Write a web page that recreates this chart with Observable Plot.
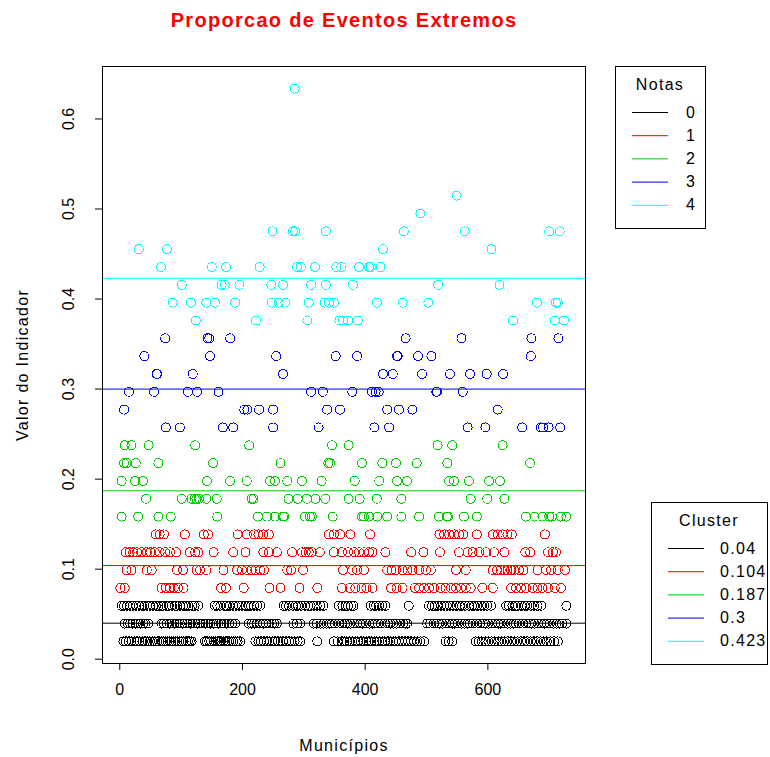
<!DOCTYPE html>
<html>
<head>
<meta charset="utf-8">
<script src="https://cdn.jsdelivr.net/npm/d3@7"></script>
<script src="https://cdn.jsdelivr.net/npm/@observablehq/plot@0.6"></script>
<style>
  body { margin: 0; background: #fff; }
  #chart svg { display: block; }
  .rotulo text { letter-spacing: 1.3px; }
  .titulo text { letter-spacing: 1.3px; }
</style>
</head>
<body>
<div id="chart"></div>
<script>
// Number of municipalities (x runs from 1 to nMunicipios)
const nMunicipios = 730;

// Cluster centres (k-means on the indicator) and the grade of each cluster
const centros = [0.04, 0.104, 0.187, 0.3, 0.423];
const notas = [0, 1, 2, 3, 4];
const cores = ["#000000", "#FF0000", "#00CD00", "#0000FF", "#00FFFF"];

// Municipalities per indicator value (value = share of extreme events)
const v0198 = [6, 10, 15, 19, 24, 28, 32, 37, 41, 45, 49, 53, 57, 61, 64, 68, 71, 75, 78, 81, 84, 88, 91, 94, 97, 101, 104, 108, 111, 114, 117, 139, 142, 146, 149, 153, 156, 159, 162, 165, 169, 172, 175, 178, 182, 185, 189, 192, 196, 221, 226, 230, 235, 240, 244, 249, 253, 258, 262, 266, 271, 276, 280, 285, 290, 294, 322, 349, 355, 362, 366, 370, 375, 379, 384, 388, 393, 397, 402, 406, 410, 415, 419, 423, 428, 432, 437, 441, 446, 450, 455, 460, 465, 470, 475, 480, 485, 490, 496, 531, 536, 542, 580, 585, 590, 596, 601, 606, 611, 617, 622, 627, 632, 638, 643, 648, 654, 659, 664, 670, 675, 680, 686, 691, 696, 702, 708, 714];
const v0396 = [8, 13, 17, 21, 26, 30, 34, 38, 42, 46, 68, 72, 77, 81, 85, 89, 93, 98, 102, 106, 110, 115, 119, 123, 127, 131, 136, 140, 144, 148, 153, 157, 161, 165, 170, 174, 178, 183, 188, 210, 215, 219, 224, 229, 234, 238, 243, 248, 252, 256, 283, 289, 294, 316, 321, 327, 332, 337, 342, 346, 351, 357, 362, 367, 371, 376, 382, 387, 392, 396, 401, 407, 412, 416, 421, 426, 432, 437, 441, 446, 451, 457, 462, 466, 469, 501, 506, 512, 517, 521, 526, 532, 537, 542, 546, 551, 557, 562, 567, 571, 576, 582, 587, 592, 596, 601, 607, 612, 617, 621, 626, 632, 637, 642, 646, 651, 657, 662, 667, 671, 676, 682, 687, 692, 696, 701, 707, 712, 717, 721, 728];
const v0594 = [3, 7, 12, 17, 21, 27, 31, 36, 40, 45, 49, 54, 59, 63, 68, 71, 76, 80, 85, 90, 93, 98, 103, 107, 112, 118, 122, 128, 155, 159, 164, 170, 174, 179, 185, 189, 194, 199, 205, 210, 214, 219, 224, 229, 267, 271, 276, 282, 287, 291, 296, 302, 307, 311, 316, 321, 327, 332, 357, 363, 368, 372, 377, 381, 409, 414, 418, 423, 428, 433, 471, 504, 509, 513, 518, 524, 529, 533, 538, 543, 549, 554, 558, 563, 569, 574, 578, 583, 589, 594, 599, 605, 630, 634, 640, 645, 649, 655, 660, 664, 670, 675, 681, 687, 728];
const v0792 = [1, 8, 68, 75, 82, 88, 95, 104, 165, 173, 202, 244, 262, 293, 322, 362, 375, 384, 394, 402, 412, 442, 451, 461, 481, 488, 496, 504, 512, 523, 531, 540, 548, 556, 564, 572, 591, 608, 638, 646, 654, 662, 673, 681, 689, 698, 709, 719];
const v0990 = [11, 19, 44, 52, 93, 103, 125, 131, 141, 169, 191, 199, 207, 215, 221, 229, 235, 273, 279, 299, 364, 379, 387, 398, 436, 443, 450, 461, 469, 477, 488, 499, 507, 548, 564, 608, 615, 621, 627, 632, 638, 643, 651, 658, 681, 695, 703, 714, 726];
const v1188 = [10, 16, 22, 28, 35, 44, 50, 57, 65, 74, 82, 92, 114, 123, 128, 153, 185, 205, 234, 243, 256, 281, 297, 303, 308, 313, 326, 349, 362, 372, 382, 390, 398, 406, 412, 433, 475, 495, 522, 553, 567, 575, 586, 597, 610, 627, 661, 669, 698, 706, 711];
const v1386 = [59, 65, 72, 106, 137, 144, 192, 207, 219, 226, 234, 243, 341, 349, 359, 376, 408, 521, 529, 537, 545, 553, 560, 582, 608, 616, 624, 632, 639, 693];
const v1584 = [3, 30, 63, 83, 159, 225, 240, 253, 266, 268, 302, 310, 313, 347, 395, 398, 406, 420, 436, 459, 488, 520, 533, 535, 561, 582, 662, 676, 689, 700, 704, 719, 728];
const v1782 = [43, 101, 117, 122, 125, 129, 141, 158, 215, 218, 275, 290, 305, 319, 335, 373, 391, 419, 459, 572, 599, 627];
const v1980 = [3, 25, 38, 142, 180, 207, 245, 253, 273, 297, 329, 383, 423, 452, 468, 537, 545, 569, 602, 620];
const v2178 = [7, 11, 26, 63, 152, 262, 340, 343, 395, 428, 450, 484, 534, 669];
const v2376 = [8, 19, 47, 123, 211, 346, 373, 518, 542, 624];
const v2574 = [75, 98, 168, 185, 250, 324, 415, 439, 567, 596, 656, 686, 690, 699, 718];
const v2772 = [7, 203, 208, 227, 250, 338, 359, 436, 455, 477, 616];
const v2970 = [15, 56, 111, 126, 161, 312, 331, 379, 411, 417, 422, 516, 517, 559];
const v3168 = [60, 61, 119, 266, 429, 445, 493, 538, 571, 598, 625];
const v3366 = [40, 147, 255, 352, 387, 452, 453, 486, 508, 670];
const v3564 = [74, 143, 146, 180, 466, 557, 671, 715];
const v3762 = [124, 222, 306, 358, 364, 372, 388, 641, 709, 724];
const v3960 = [86, 116, 141, 155, 188, 248, 259, 270, 308, 334, 341, 349, 419, 461, 503, 680, 711, 714];
const v4158 = [101, 166, 171, 195, 247, 266, 312, 336, 380, 519, 619];
const v4356 = [67, 150, 173, 228, 289, 295, 318, 353, 361, 390, 406, 409, 425];
const v4554 = [31, 77, 429, 606];
const v4752 = [249, 282, 286, 336, 463, 562, 700, 717];
const v4950 = [490];
const v5149 = [549];
const v6337 = [285];

// value, grade (cluster), municipalities
const grupos = [
  [0.0198, 0, v0198], [0.0396, 0, v0396], [0.0594, 0, v0594],
  [0.0792, 1, v0792], [0.0990, 1, v0990], [0.1188, 1, v1188], [0.1386, 1, v1386],
  [0.1584, 2, v1584], [0.1782, 2, v1782], [0.1980, 2, v1980], [0.2178, 2, v2178], [0.2376, 2, v2376],
  [0.2574, 3, v2574], [0.2772, 3, v2772], [0.2970, 3, v2970], [0.3168, 3, v3168], [0.3366, 3, v3366], [0.3564, 3, v3564],
  [0.3762, 4, v3762], [0.3960, 4, v3960], [0.4158, 4, v4158], [0.4356, 4, v4356], [0.4554, 4, v4554],
  [0.4752, 4, v4752], [0.4950, 4, v4950], [0.5149, 4, v5149], [0.6337, 4, v6337]
];

const dados = grupos.flatMap(([valor, nota, ms]) => ms.map(municipio => ({municipio, valor, nota})));
const linhas = centros.map((centro, i) => ({centro, nota: notas[i]}));

const xTicks = [0, 200, 400, 600];
const yTicks = [0, 0.1, 0.2, 0.3, 0.4, 0.5, 0.6];

// Axis limits extended by 4% on each side, as in base R graphics
const xPad = 0.04 * (nMunicipios - 1);
const xDom = [1 - xPad, nMunicipios + xPad];
const [yMin, yMax] = d3.extent(dados, d => d.valor);
const yPad = 0.04 * (yMax - yMin);
const yDom = [yMin - yPad, yMax + yPad];

const fonte = "'Liberation Sans', Arial, sans-serif";
const W = 770, H = 757;
const mL = 102, mR = 185, mT = 66, mB = 94;

const chart = Plot.plot({
  width: W,
  height: H,
  marginLeft: mL,
  marginRight: mR,
  marginTop: mT,
  marginBottom: mB,
  x: {domain: xDom, axis: null},
  y: {domain: yDom, axis: null},
  color: {type: "ordinal", domain: notas, range: cores},
  style: {fontFamily: fonte, fontSize: "16px", background: "#fff", color: "#000", overflow: "visible"},
  marks: [
    Plot.dot(dados, {x: "municipio", y: "valor", stroke: "nota", r: 4.5, strokeWidth: 1, fill: "none", shapeRendering: "crispEdges"}),
    Plot.ruleY(linhas, {y: "centro", stroke: "nota", strokeWidth: 1}),
    Plot.frame({stroke: "#000", strokeWidth: 1}),
    Plot.axisX({ticks: xTicks, tickSize: 7, tickPadding: 13, label: null, fontSize: 16, tickFormat: d3.format("d")}),
    Plot.axisY({ticks: yTicks, tickSize: 7, label: null, tickFormat: () => ""}),
    Plot.text(yTicks, {y: d => d, text: d => d3.format(".1f")(d), frameAnchor: "left", dx: -34, rotate: -90,
      textAnchor: "middle", lineAnchor: "middle", fontSize: 16}),
    Plot.text(["Municípios"], {frameAnchor: "bottom", dy: 82, textAnchor: "middle", lineAnchor: "middle",
      fontSize: 16, className: "rotulo"}),
    Plot.text(["Valor do Indicador"], {frameAnchor: "left", dx: -80, rotate: -90, textAnchor: "middle", lineAnchor: "middle",
      fontSize: 16, className: "rotulo"}),
    Plot.text(["Proporcao de Eventos Extremos"], {frameAnchor: "top", dy: -46, textAnchor: "middle", lineAnchor: "middle",
      fontSize: 20, fontWeight: "bold", fill: "#FF0000", className: "titulo"})
  ]
});

document.getElementById("chart").appendChild(chart);

// Legends drawn to the right of the plotting region
const svg = d3.select(chart);
function legenda(x, y, w, h, titulo, rotulos, rotuloX) {
  const g = svg.append("g").attr("font-family", fonte).attr("font-size", 16)
    .attr("letter-spacing", "1.3px").attr("text-anchor", "start");
  g.append("rect").attr("x", x + 0.5).attr("y", y + 0.5).attr("width", w).attr("height", h)
    .attr("fill", "#fff").attr("stroke", "#000");
  g.append("text").attr("x", x + w / 2).attr("y", y + 18).attr("dy", "0.35em")
    .attr("text-anchor", "middle").text(titulo);
  rotulos.forEach((r, i) => {
    const yy = y + 46 + i * 23.2;
    g.append("line").attr("x1", x + 17).attr("x2", x + 53).attr("y1", yy + 0.5).attr("y2", yy + 0.5)
      .attr("stroke", cores[i]);
    g.append("text").attr("x", x + rotuloX).attr("y", yy).attr("dy", "0.35em").text(r);
  });
}
legenda(615, 66, 90, 162, "Notas", notas.map(String), 71);
legenda(651, 502, 116, 162, "Cluster", centros.map(String), 69);
</script>
</body>
</html>
